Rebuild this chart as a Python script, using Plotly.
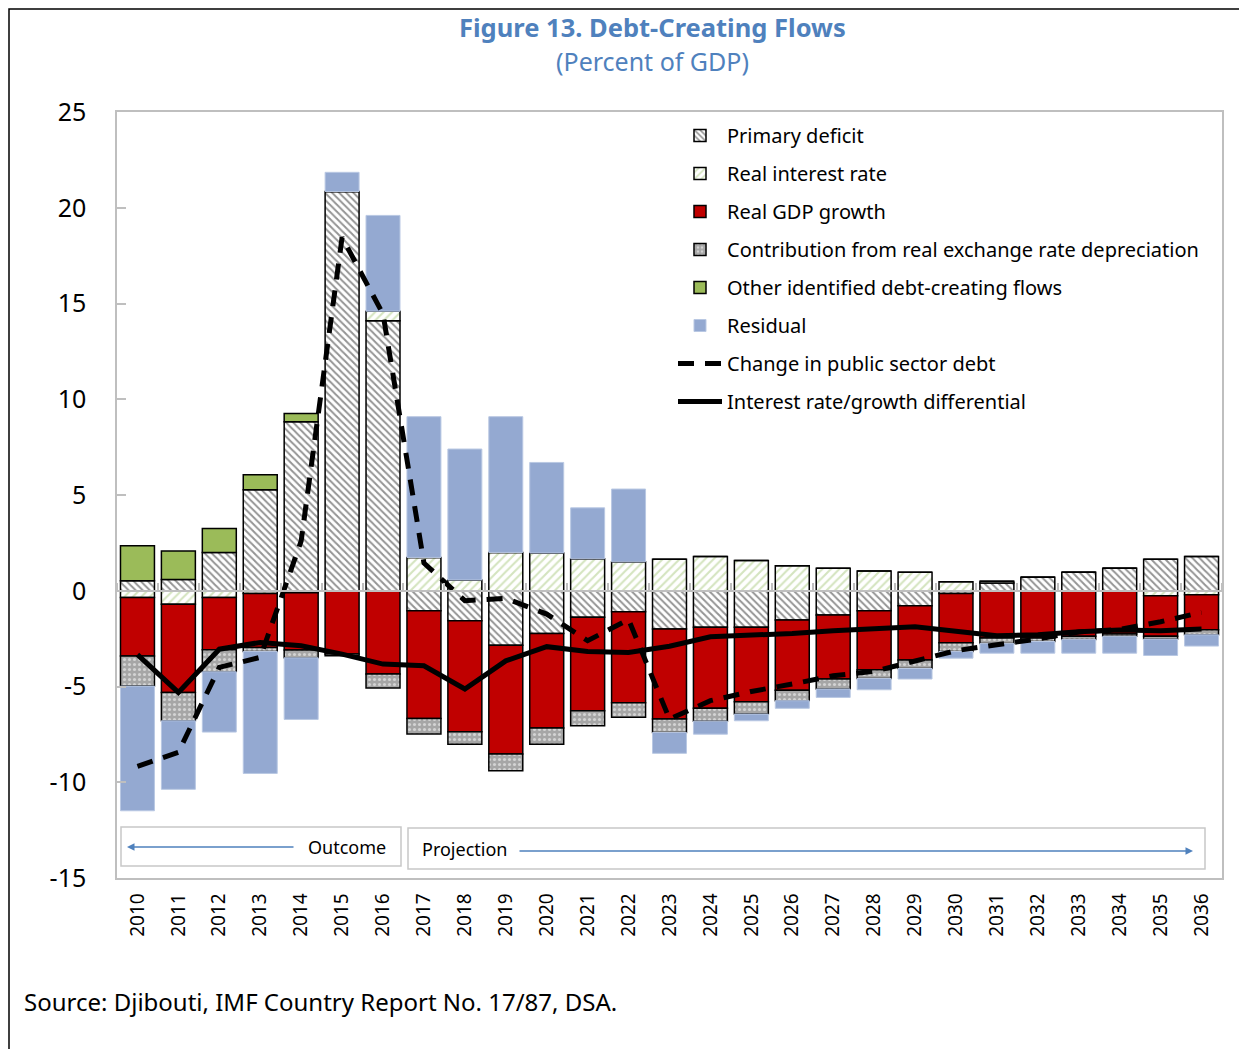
import plotly.graph_objects as go

years = [str(y) for y in range(2010, 2037)]

primary_deficit = [0.52, 0.59, 2.00, 5.27, 8.83, 20.85, 14.10, -1.04, -1.57, -2.84, -2.23, -1.39, -1.10,
                   -2.00, -1.91, -1.91, -1.53, -1.27, -1.04, -0.78, -0.14, 0.40, 0.70, 0.96, 1.17, 1.65, 1.79]
real_interest = [-0.35, -0.70, -0.35, -0.14, -0.10, 0.00, 0.50, 1.74, 0.56, 2.00, 1.97, 1.67, 1.51,
                 1.65, 1.79, 1.58, 1.31, 1.17, 1.03, 0.96, 0.47, 0.10, 0.00, 0.00, 0.00, -0.26, -0.21]
real_gdp_growth = [-3.06, -4.61, -2.73, -2.82, -3.00, -3.30, -4.35, -5.63, -5.79, -5.69, -4.94, -4.88, -4.75,
                   -4.70, -4.23, -3.89, -3.66, -3.34, -3.09, -2.84, -2.58, -2.47, -2.47, -2.38, -2.26, -2.12, -1.83]
rer_depreciation = [-1.57, -1.48, -1.15, -0.21, -0.40, -0.10, -0.73, -0.81, -0.65, -0.87, -0.84, -0.78, -0.76,
                    -0.70, -0.67, -0.64, -0.55, -0.52, -0.45, -0.44, -0.45, -0.28, -0.18, -0.16, -0.12, -0.14, -0.26]
other_flows = [1.83, 1.48, 1.25, 0.79, 0.43, 0.00, 0.00, 0.00, 0.00, 0.00, 0.00, 0.00, 0.00,
               0.00, 0.00, 0.00, 0.00, 0.00, 0.00, 0.00, 0.00, 0.00, 0.00, 0.00, 0.00, 0.00, 0.00]
residual = [-6.51, -3.58, -3.15, -6.37, -3.22, 1.00, 5.00, 7.35, 6.84, 7.09, 4.73, 2.66, 3.80,
            -1.09, -0.68, -0.35, -0.40, -0.44, -0.59, -0.55, -0.35, -0.51, -0.61, -0.72, -0.88, -0.86, -0.59]
change_debt = [-9.17, -8.44, -4.00, -3.48, 2.60, 18.45, 14.45, 1.45, -0.52, -0.40, -1.22, -2.61, -1.50,
               -6.70, -5.74, -5.26, -4.87, -4.44, -4.21, -3.66, -3.13, -2.82, -2.52, -2.15, -2.02, -1.62, -1.13]
ir_growth_diff = [-3.34, -5.31, -3.05, -2.70, -2.87, -3.31, -3.83, -3.92, -5.13, -3.66, -2.92, -3.17, -3.22,
                  -2.90, -2.40, -2.32, -2.23, -2.09, -1.97, -1.88, -2.12, -2.35, -2.30, -2.14, -2.05, -2.09, -2.00]

y_tickvals = [-15, -10, -5, 0, 5, 10, 15, 20, 25]
y_ticktext = ["-15", "-10", "-5", "0", "5", "10", "15", "20", "25"]

FONT = "Noto Sans"
BLUE = "#4F81BD"

fig = go.Figure()

bar_specs = [
    ("Primary deficit", primary_deficit,
     dict(color="white", line=dict(color="black", width=1.5),
          pattern=dict(shape="\\", fgcolor="#2a2a2a", bgcolor="white", size=5, solidity=0.4))),
    ("Real interest rate", real_interest,
     dict(color="white", line=dict(color="black", width=1.5),
          pattern=dict(shape="/", fgcolor="#a9c97f", bgcolor="white", size=6, solidity=0.35))),
    ("Real GDP growth", real_gdp_growth,
     dict(color="#C00000", line=dict(color="black", width=1.5))),
    ("Contribution from real exchange rate depreciation", rer_depreciation,
     dict(color="#a6a6a6", line=dict(color="black", width=1.5),
          pattern=dict(shape=".", fgcolor="white", bgcolor="#a6a6a6", size=5, solidity=0.3))),
    ("Other identified debt-creating flows", other_flows,
     dict(color="#9BBB59", line=dict(color="black", width=1.5))),
    ("Residual", residual,
     dict(color="#94A9D1", line=dict(color="#b9c8e3", width=1))),
]

for i, (name, vals, marker) in enumerate(bar_specs):
    fig.add_trace(go.Bar(x=years, y=vals, name=name, marker=marker,
                         legendgroup=f"g{i}"))

fig.add_trace(go.Scatter(x=years, y=change_debt, name="Change in public sector debt",
                         mode="lines", line=dict(color="black", width=5, dash="16px,11px"),
                         legendgroup="g6"))
fig.add_trace(go.Scatter(x=years, y=ir_growth_diff, name="Interest rate/growth differential",
                         mode="lines", line=dict(color="black", width=5),
                         legendgroup="g7"))

# invisible helper trace for the zero-line category tick marks
fig.add_trace(go.Scatter(x=years, y=ir_growth_diff, xaxis="x2", mode="lines",
                         line=dict(width=0), showlegend=False, hoverinfo="skip", opacity=0))

OFF = 8  # page offset of the figure in the screenshot
W, H = 1247 - OFF, 1049 - OFF
X0, X1, Y0, Y1 = 117, 1222, 112, 878  # plot area in screen pixels
L, T = X0 - OFF, Y0 - OFF
R, B = W - (X1 - OFF), H - (Y1 - OFF)
pw, ph = X1 - X0, Y1 - Y0


def px(xs):
    return (xs - X0) / pw


def py(ys):
    return (Y1 - ys) / ph


fig.update_layout(
    width=W, height=H,
    margin=dict(l=L, r=R, t=T, b=B),
    paper_bgcolor="white", plot_bgcolor="white",
    barmode="relative", bargap=0.17,
    font=dict(family=FONT, color="black"),
    showlegend=True,
    legend=dict(x=px(673), y=py(116), xanchor="left", yanchor="top",
                font=dict(size=20, family=FONT), tracegroupgap=9,
                itemwidth=44, bgcolor="rgba(255,255,255,0)"),
    xaxis=dict(type="category", categoryorder="array", categoryarray=years,
               range=[-0.5, 26.5], tickangle=-90, tickfont=dict(size=19),
               showline=True, mirror=True, linecolor="#bfbfbf", linewidth=1.5,
               ticks="", ticklabelstandoff=6, showgrid=False, zeroline=False),
    xaxis2=dict(type="category", categoryorder="array", categoryarray=years,
                range=[-0.5, 26.5], overlaying="x", anchor="free", position=15 / 40,
                side="top", showticklabels=False, showline=True, linecolor="#bfbfbf",
                linewidth=1.5, ticks="outside", ticklen=7, tickcolor="#bfbfbf",
                tickwidth=1.5, tickson="boundaries", showgrid=False, zeroline=False),
    yaxis=dict(range=[-15, 25], tickvals=y_tickvals, ticktext=y_ticktext, tickfont=dict(size=25),
               showline=True, mirror=True, linecolor="#bfbfbf", linewidth=1.5,
               ticks="inside", ticklen=9, tickcolor="#bfbfbf", tickwidth=1.5,
               ticklabelstandoff=24, showgrid=False, zeroline=False),
)

shapes = [
    # outer frame
    dict(type="rect", xref="paper", yref="paper", x0=px(9), x1=px(1245), y0=py(1070), y1=py(9),
         line=dict(color="black", width=1.5), layer="below"),
    # Outcome box
    dict(type="rect", xref="paper", yref="paper", x0=px(121), x1=px(401), y0=py(866), y1=py(827),
         line=dict(color="#c8c8c8", width=1.5), fillcolor="white"),
    # Projection box
    dict(type="rect", xref="paper", yref="paper", x0=px(408), x1=px(1205), y0=py(869), y1=py(828),
         line=dict(color="#c8c8c8", width=1.5), fillcolor="white"),
]
fig.update_layout(shapes=shapes)

annotations = [
    dict(text="<b>Figure 13. Debt-Creating Flows</b>", xref="paper", yref="paper",
         x=px(652), y=py(27), showarrow=False, font=dict(size=25.5, color=BLUE),
         xanchor="center", yanchor="middle"),
    dict(text="(Percent of GDP)", xref="paper", yref="paper",
         x=px(652), y=py(61), showarrow=False, font=dict(size=25, color=BLUE),
         xanchor="center", yanchor="middle"),
    dict(text="Source: Djibouti, IMF Country Report No. 17/87, DSA.", xref="paper", yref="paper",
         x=px(22), y=py(1002), showarrow=False, font=dict(size=24, color="black"),
         xanchor="left", yanchor="middle"),
    dict(text="Outcome", xref="paper", yref="paper", x=px(388), y=py(847), showarrow=False,
         font=dict(size=18), xanchor="right", yanchor="middle"),
    dict(text="Projection", xref="paper", yref="paper", x=px(420), y=py(849), showarrow=False,
         font=dict(size=18), xanchor="left", yanchor="middle"),
    dict(text="", xref="paper", yref="paper", x=px(127), y=py(847), ax=168, ay=0,
         showarrow=True, arrowhead=2, arrowsize=1, arrowwidth=1.5, arrowcolor=BLUE),
    dict(text="", xref="paper", yref="paper", x=px(1193), y=py(851), ax=-675, ay=0,
         showarrow=True, arrowhead=2, arrowsize=1, arrowwidth=1.5, arrowcolor=BLUE),
]
fig.update_layout(annotations=annotations)

fig.write_html("out.html")
